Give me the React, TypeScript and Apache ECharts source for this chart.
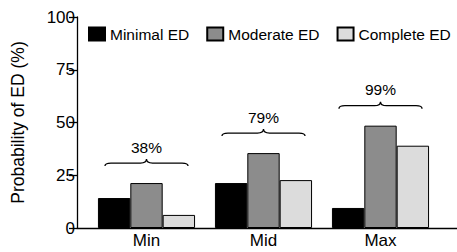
import React, { useEffect, useRef } from "react";
import * as echarts from "echarts";

const categories = ["Min", "Mid", "Max"];
const seriesNames = ["Minimal ED", "Moderate ED", "Complete ED"];
const minimalED = [14.2, 21.3, 9.5];
const moderateED = [21.3, 35.5, 48.5];
const completeED = [6.2, 22.7, 39];
const totalLabels = ["38%", "79%", "99%"];
const yTicks = [0, 25, 50, 75, 100];

const FONT = "'Liberation Sans', Arial, Helvetica, sans-serif";

export default function App() {
  const ref = useRef<HTMLDivElement>(null);
  useEffect(() => {
    if (!ref.current) return;
    const chart = echarts.init(ref.current, null, { renderer: "svg" });
    const braceData = categories.map((_, i) => [
      i,
      Math.max(minimalED[i], moderateED[i], completeED[i]),
      totalLabels[i],
    ]);
    const colors = ["#000000", "#8c8c8c", "#dcdcdc"];
    const values = [minimalED, moderateED, completeED];
    chart.setOption({
      animation: false,
      textStyle: { fontFamily: FONT },
      legend: {
        left: 88,
        top: 26,
        padding: 0,
        itemWidth: 16,
        itemHeight: 13,
        itemGap: 17,
        selectedMode: false,
        icon: "rect",
        textStyle: { fontSize: 15.5, color: "#000", fontFamily: FONT },
        data: seriesNames,
      },
      grid: [
        { left: 77, right: 0, top: 17, bottom: 24 },
        { left: 88, right: 18, top: 17, bottom: 24 },
      ],
      xAxis: [
        {
          gridIndex: 0,
          type: "value",
          min: 0,
          max: 1,
          axisLine: { show: true, lineStyle: { color: "#000", width: 1.3 } },
          axisTick: { show: false },
          axisLabel: { show: false },
          splitLine: { show: false },
        },
        {
          gridIndex: 1,
          type: "category",
          data: categories,
          axisLine: { show: false },
          axisTick: { show: false },
          axisLabel: { fontSize: 17, color: "#000", margin: 4, fontFamily: FONT },
        },
      ],
      yAxis: [
        {
          gridIndex: 0,
          type: "value",
          min: yTicks[0],
          max: yTicks[yTicks.length - 1],
          interval: 25,
          name: "Probability of ED (%)",
          nameLocation: "middle",
          nameGap: 50,
          nameTextStyle: { fontSize: 17.5, color: "#000", fontFamily: FONT },
          axisLine: { show: true, lineStyle: { color: "#000", width: 1.3 } },
          axisTick: { show: true, length: 8, lineStyle: { color: "#000", width: 1.3 } },
          axisLabel: { fontSize: 17, color: "#000", margin: 2, fontFamily: FONT },
          splitLine: { show: false },
        },
        {
          gridIndex: 1,
          type: "value",
          min: 0,
          max: 100,
          show: false,
        },
      ],
      series: [
        ...seriesNames.map((name, k) => ({
          name,
          type: "bar",
          xAxisIndex: 1,
          yAxisIndex: 1,
          data: values[k],
          barGap: "0%",
          barCategoryGap: "17%",
          itemStyle: { color: colors[k], borderColor: "#000", borderWidth: 1 },
        })),
        {
          type: "custom",
          xAxisIndex: 1,
          yAxisIndex: 1,
          silent: true,
          data: braceData,
          encode: { x: 0, y: 1 },
          renderItem: (params: any, api: any) => {
            const idx = api.value(0);
            const top = api.coord([idx, api.value(1)]);
            const band = api.size([1, 0])[0];
            const cx = top[0];
            const w = band * 0.71;
            const x0 = cx - w / 2;
            const x1 = cx + w / 2;
            const yl = top[1] - 20;
            const d =
              `M${x0} ${yl + 3} Q${x0} ${yl} ${x0 + 6} ${yl} L${cx - 6} ${yl} ` +
              `Q${cx} ${yl} ${cx} ${yl - 4} Q${cx} ${yl} ${cx + 6} ${yl} ` +
              `L${x1 - 6} ${yl} Q${x1} ${yl} ${x1} ${yl + 3}`;
            return {
              type: "group",
              children: [
                {
                  type: "path",
                  shape: { pathData: d },
                  style: { stroke: "#000", fill: "none", lineWidth: 1.3 },
                },
                {
                  type: "text",
                  style: {
                    text: String(braceData[params.dataIndex][2]),
                    x: cx,
                    y: yl - 16,
                    align: "center",
                    verticalAlign: "middle",
                    fontSize: 15.5,
                    fontFamily: FONT,
                    fill: "#000",
                  },
                },
              ],
            };
          },
        },
      ],
    });
    return () => chart.dispose();
  }, []);
  return <div ref={ref} style={{ width: 457, height: 252, position: "absolute", left: 0, top: 0 }} />;
}
